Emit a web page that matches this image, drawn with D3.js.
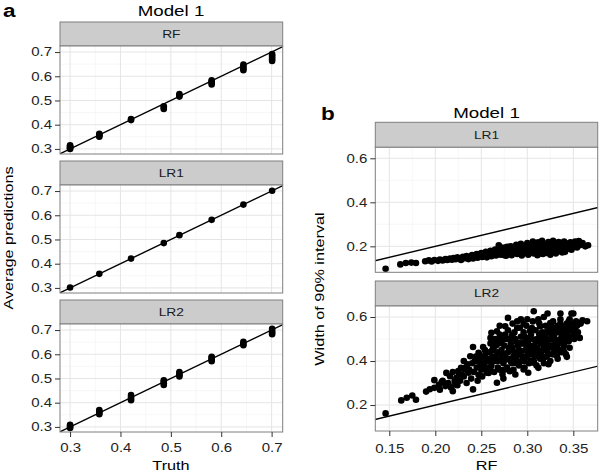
<!DOCTYPE html>
<html><head><meta charset="utf-8">
<script src="https://cdn.jsdelivr.net/npm/d3@7"></script>
<style>body{margin:0;background:#fff} svg{display:block;font-family:"Liberation Sans",Arial,Helvetica,sans-serif}</style>
</head><body><svg id="c" width="600" height="473"></svg>
<script>
// ---------- DATA ----------
const panelsA = ["RF", "LR1", "LR2"];
const panelsB = ["LR1", "LR2"];
const truth = [0.300, 0.358, 0.421, 0.486, 0.517, 0.581, 0.644, 0.701];
const rfPred = [
  [0.300, 0.303, 0.306, 0.309, 0.312, 0.315],
  [0.350, 0.354, 0.358, 0.362],
  [0.419, 0.423],
  [0.465, 0.470, 0.476],
  [0.516, 0.521, 0.527],
  [0.566, 0.572, 0.578, 0.583],
  [0.625, 0.632, 0.640, 0.648],
  [0.663, 0.670, 0.678, 0.686, 0.692]
];
const lr1Pred = [[0.302], [0.358], [0.421], [0.485], [0.518], [0.581], [0.644], [0.701]];
const lr2Pred = [
  [0.296, 0.300, 0.305, 0.309],
  [0.352, 0.358, 0.364, 0.370],
  [0.410, 0.417, 0.424, 0.432],
  [0.473, 0.480, 0.487, 0.493],
  [0.508, 0.514, 0.520, 0.527],
  [0.571, 0.578, 0.585, 0.590],
  [0.637, 0.644, 0.652],
  [0.683, 0.690, 0.697, 0.705]
];
const aTicks = [0.3, 0.4, 0.5, 0.6, 0.7];
const bXTicks = [0.15, 0.20, 0.25, 0.30, 0.35];
const bYTicks = [0.2, 0.4, 0.6];

// RF interval width (x) vs LR1 interval width (y)
const lr1Points = [
[0.146,0.098],[0.162,0.118],[0.168,0.124],[0.174,0.126],[0.179,0.124],[0.189,0.132],[0.193,0.136],[0.196,0.131],
[0.199,0.138],[0.203,0.134],[0.205,0.140],[0.208,0.136],[0.211,0.142],[0.213,0.138],[0.216,0.145],[0.218,0.139],
[0.220,0.147],[0.222,0.141],[0.224,0.150],[0.226,0.144],[0.228,0.138],[0.230,0.152],[0.232,0.146],[0.234,0.156],
[0.236,0.142],[0.238,0.150],[0.240,0.160],[0.241,0.145],[0.243,0.155],[0.245,0.165],[0.246,0.148],[0.248,0.158],
[0.250,0.170],[0.251,0.152],[0.253,0.162],[0.255,0.175],[0.256,0.150],[0.258,0.166],[0.260,0.180],[0.261,0.155],
[0.263,0.170],[0.265,0.185],[0.266,0.158],[0.268,0.175],[0.269,0.205],[0.270,0.190],[0.271,0.162],[0.273,0.180],
[0.274,0.168],[0.276,0.195],[0.277,0.157],[0.279,0.185],[0.280,0.172],[0.282,0.200],[0.283,0.160],[0.285,0.190],
[0.286,0.176],[0.288,0.207],[0.289,0.165],[0.290,0.195],[0.292,0.182],[0.293,0.212],[0.294,0.158],[0.296,0.170],
[0.297,0.200],[0.298,0.188],[0.300,0.215],[0.301,0.162],[0.302,0.178],[0.304,0.205],[0.305,0.192],[0.306,0.222],
[0.307,0.168],[0.308,0.183],[0.309,0.210],[0.310,0.197],[0.311,0.160],[0.312,0.218],[0.313,0.174],[0.314,0.188],
[0.315,0.205],[0.316,0.225],[0.317,0.165],[0.318,0.195],[0.319,0.180],[0.320,0.212],[0.321,0.170],[0.322,0.200],
[0.323,0.220],[0.324,0.186],[0.325,0.162],[0.326,0.208],[0.327,0.175],[0.328,0.225],[0.329,0.193],[0.330,0.214],
[0.331,0.168],[0.332,0.183],[0.333,0.202],[0.334,0.220],[0.335,0.178],[0.336,0.195],[0.337,0.210],[0.338,0.187],
[0.340,0.222],[0.341,0.175],[0.342,0.200],[0.344,0.212],[0.345,0.190],[0.347,0.218],[0.348,0.185],[0.350,0.205],
[0.352,0.222],[0.354,0.195],[0.356,0.224],[0.358,0.210],[0.360,0.215],[0.363,0.200],[0.366,0.205],
[0.262,0.172],[0.267,0.182],[0.272,0.195],[0.275,0.160],[0.278,0.198],[0.281,0.166],[0.284,0.184],[0.287,0.170],
[0.291,0.205],[0.295,0.185],[0.299,0.170],[0.303,0.196],[0.306,0.176],[0.310,0.215],[0.314,0.168],[0.318,0.210],
[0.322,0.180],[0.326,0.192],[0.330,0.176],[0.334,0.208],[0.338,0.172],[0.342,0.186],[0.346,0.200],[0.349,0.195],
[0.353,0.210],[0.357,0.205],
[0.234,0.148],[0.239,0.155],[0.244,0.160],[0.249,0.165],[0.254,0.168],[0.259,0.160],[0.264,0.178],[0.270,0.175],
[0.276,0.182],[0.281,0.190],[0.286,0.196],[0.291,0.172],[0.296,0.195],[0.301,0.205],[0.306,0.200],[0.311,0.190],
[0.316,0.212],[0.321,0.195],[0.326,0.218],[0.331,0.200],[0.336,0.215],[0.341,0.210],[0.346,0.215],[0.351,0.214],
[0.355,0.218]
];

// RF interval width (x) vs LR2 interval width (y)
const lr2Points = [
[0.146,0.162],[0.163,0.221],[0.169,0.233],[0.175,0.243],[0.179,0.224],[0.190,0.261],[0.194,0.272],[0.199,0.313],
[0.199,0.278],[0.204,0.292],[0.207,0.304],[0.211,0.286],[0.212,0.346],[0.216,0.331],[0.219,0.263],[0.221,0.294],
[0.223,0.324],[0.225,0.354],[0.228,0.369],[0.229,0.337],[0.231,0.400],[0.232,0.362],[0.235,0.385],[0.236,0.347],
[0.238,0.422],[0.239,0.320],[0.241,0.271],[0.241,0.464],[0.243,0.400],[0.245,0.370],[0.247,0.437],[0.247,0.337],
[0.249,0.407],[0.252,0.464],[0.253,0.380],[0.255,0.437],[0.256,0.347],
[0.254,0.422],[0.258,0.346],[0.260,0.505],[0.261,0.528],[0.263,0.400],[0.264,0.475],[0.267,0.301],[0.267,0.535],
[0.269,0.437],[0.270,0.360],[0.272,0.490],[0.274,0.320],[0.276,0.558],[0.277,0.407],[0.279,0.596],[0.280,0.460],
[0.281,0.354],[0.283,0.513],[0.285,0.422],[0.287,0.339],[0.289,0.483],[0.290,0.392],[0.292,0.551],[0.293,0.589],
[0.294,0.445],[0.296,0.362],[0.298,0.505],[0.299,0.422],[0.301,0.347],[0.303,0.536],[0.305,0.468],[0.307,0.626],
[0.307,0.392],[0.308,0.498],[0.310,0.437],[0.312,0.369],[0.314,0.558],[0.316,0.483],[0.317,0.407],[0.319,0.520],
[0.321,0.452],[0.322,0.616],[0.323,0.385],[0.325,0.573],[0.327,0.498],[0.328,0.430],[0.330,0.543],[0.332,0.425],
[0.333,0.475],[0.336,0.589],[0.336,0.616],[0.338,0.513],[0.339,0.452],[0.341,0.558],[0.343,0.419],[0.345,0.490],
[0.346,0.589],[0.348,0.616],[0.350,0.616],[0.349,0.536],[0.352,0.543],[0.357,0.505],[0.356,0.573],[0.360,0.585],
[0.365,0.581],
[0.245,0.40],[0.248,0.43],[0.250,0.36],[0.252,0.39],[0.254,0.45],[0.256,0.41],[0.257,0.37],[0.259,0.44],
[0.260,0.48],[0.261,0.38],[0.262,0.42],[0.263,0.46],[0.264,0.35],[0.265,0.50],[0.266,0.40],[0.267,0.44],
[0.268,0.37],[0.269,0.48],[0.270,0.52],[0.271,0.41],[0.272,0.45],[0.273,0.34],[0.274,0.39],[0.275,0.47],
[0.276,0.43],[0.277,0.50],[0.278,0.37],[0.279,0.54],[0.280,0.41],[0.281,0.45],[0.282,0.48],[0.283,0.39],
[0.284,0.52],[0.285,0.36],[0.286,0.44],[0.287,0.50],[0.288,0.41],[0.289,0.55],[0.290,0.47],[0.291,0.38],
[0.292,0.43],[0.293,0.51],[0.294,0.40],[0.295,0.48],[0.296,0.53],[0.297,0.37],[0.298,0.45],[0.299,0.56],
[0.300,0.42],[0.301,0.49],[0.302,0.39],[0.303,0.46],[0.304,0.52],[0.305,0.43],[0.306,0.58],[0.307,0.40],
[0.308,0.47],[0.309,0.54],[0.310,0.38],[0.311,0.50],[0.312,0.44],[0.313,0.57],[0.314,0.41],[0.315,0.48],
[0.316,0.53],[0.317,0.45],[0.318,0.39],[0.319,0.51],[0.320,0.56],[0.321,0.42],[0.322,0.49],[0.323,0.46],
[0.324,0.54],[0.325,0.40],[0.326,0.52],[0.327,0.47],[0.328,0.58],[0.329,0.44],[0.330,0.50],[0.331,0.55],
[0.332,0.46],[0.333,0.41],[0.334,0.53],[0.335,0.48],[0.336,0.57],[0.337,0.44],[0.338,0.51],[0.339,0.55],
[0.340,0.47],[0.341,0.52],[0.342,0.43],[0.343,0.57],[0.344,0.49],[0.345,0.54],[0.346,0.46],[0.347,0.51],
[0.349,0.56],[0.351,0.50],[0.353,0.58],[0.355,0.53],
[0.205,0.27],[0.208,0.31],[0.214,0.30],[0.217,0.28],[0.219,0.35],[0.221,0.31],[0.224,0.29],[0.226,0.34],
[0.227,0.31],[0.231,0.33],[0.233,0.37],[0.234,0.30],[0.237,0.36],[0.240,0.39],[0.242,0.35],[0.244,0.42],
[0.246,0.31],[0.249,0.38],[0.251,0.33],[0.253,0.42],[0.255,0.36],
[0.262,0.45],[0.266,0.47],[0.271,0.50],[0.273,0.43],[0.276,0.52],[0.279,0.44],[0.281,0.50],[0.284,0.46],
[0.286,0.53],[0.288,0.39],[0.291,0.45],[0.293,0.48],[0.295,0.42],[0.297,0.51],[0.299,0.47],[0.301,0.44],
[0.303,0.50],[0.305,0.55],[0.306,0.45],[0.308,0.42],[0.309,0.49],[0.311,0.46],[0.313,0.52],[0.315,0.44],
[0.316,0.50],[0.318,0.47],[0.320,0.53],[0.321,0.48],[0.323,0.43],[0.325,0.50],[0.326,0.56],[0.328,0.46],
[0.329,0.52],[0.331,0.49],[0.333,0.56],[0.334,0.45],[0.336,0.50],[0.337,0.54],[0.339,0.48],[0.341,0.50],
[0.343,0.53],[0.345,0.58],[0.347,0.55],[0.350,0.57],[0.352,0.52],[0.354,0.56],[0.358,0.57],[0.312,0.59],
[0.318,0.60],[0.300,0.59],[0.296,0.57],[0.284,0.57],[0.289,0.58],[0.270,0.56],[0.258,0.40],[0.260,0.36],
[0.265,0.42],[0.268,0.40],[0.275,0.36],[0.282,0.40],[0.290,0.43],[0.297,0.40],[0.304,0.40],[0.315,0.42],
[0.322,0.44],[0.330,0.45],[0.340,0.44]
];

// ---------- DRAW ----------
const svg = d3.select("#c");
const GRID = "#e5e5e5", MINOR = "#f4f4f4", BORDER = "#7f7f7f", STRIP = "#cccccc";
const SX = 1.25; // horizontal glyph stretch seen in the reference
let clipId = 0;

function stretch(sel) {
  sel.each(function () {
    const t = d3.select(this);
    const x = +(t.attr("x") || 0);
    t.attr("x", x / SX).attr("transform", ((t.attr("transform") || "") + ` scale(${SX},1)`).trim());
  });
  return sel;
}

function facet(o) {
  const g = svg.append("g");
  const x = d3.scaleLinear().domain(o.xDomain).range([o.x0, o.x1]);
  const y = d3.scaleLinear().domain(o.yDomain).range([o.plotBot, o.plotTop]);
  g.append("rect").attr("x", o.x0).attr("y", o.stripTop).attr("width", o.x1 - o.x0)
    .attr("height", o.plotTop - o.stripTop).attr("fill", STRIP).attr("stroke", BORDER).attr("stroke-width", 1);
  stretch(g.append("text").attr("x", (o.x0 + o.x1) / 2).attr("y", (o.stripTop + o.plotTop) / 2 + 4)
    .attr("text-anchor", "middle").attr("font-size", 11).attr("fill", "#1a1a1a").text(o.label));
  g.append("rect").attr("x", o.x0).attr("y", o.plotTop).attr("width", o.x1 - o.x0)
    .attr("height", o.plotBot - o.plotTop).attr("fill", "#fff");
  g.selectAll(null).data(o.xMinor).join("line").attr("x1", d => x(d)).attr("x2", d => x(d))
    .attr("y1", o.plotTop).attr("y2", o.plotBot).attr("stroke", MINOR).attr("stroke-width", 0.7);
  g.selectAll(null).data(o.yMinor).join("line").attr("y1", d => y(d)).attr("y2", d => y(d))
    .attr("x1", o.x0).attr("x2", o.x1).attr("stroke", MINOR).attr("stroke-width", 0.7);
  g.selectAll(null).data(o.xTicks).join("line").attr("x1", d => x(d)).attr("x2", d => x(d))
    .attr("y1", o.plotTop).attr("y2", o.plotBot).attr("stroke", GRID).attr("stroke-width", 1);
  g.selectAll(null).data(o.yTicks).join("line").attr("y1", d => y(d)).attr("y2", d => y(d))
    .attr("x1", o.x0).attr("x2", o.x1).attr("stroke", GRID).attr("stroke-width", 1);
  const id = "clip" + (clipId++);
  svg.append("clipPath").attr("id", id).append("rect").attr("x", o.x0).attr("y", o.plotTop)
    .attr("width", o.x1 - o.x0).attr("height", o.plotBot - o.plotTop);
  const inner = g.append("g").attr("clip-path", `url(#${id})`);
  inner.selectAll("circle").data(o.points).join("circle")
    .attr("cx", d => x(d[0])).attr("cy", d => y(d[1])).attr("r", o.r).attr("fill", "#000");
  const lo = Math.min(o.xDomain[0], o.yDomain[0]) - 0.1, hi = Math.max(o.xDomain[1], o.yDomain[1]) + 0.1;
  inner.append("line").attr("x1", x(lo)).attr("y1", y(lo)).attr("x2", x(hi)).attr("y2", y(hi))
    .attr("stroke", "#000").attr("stroke-width", 1.4);
  g.append("rect").attr("x", o.x0).attr("y", o.plotTop).attr("width", o.x1 - o.x0)
    .attr("height", o.plotBot - o.plotTop).attr("fill", "none").attr("stroke", BORDER).attr("stroke-width", 1);
  const ya = g.append("g").attr("transform", `translate(${o.x0},0)`)
    .call(d3.axisLeft(y).tickValues(o.yTicks).tickFormat(d3.format(o.yFmt)).tickSize(5).tickPadding(3));
  ya.select(".domain").remove();
  ya.selectAll(".tick line").attr("stroke", "#333");
  stretch(ya.selectAll(".tick text").attr("font-size", 12).attr("fill", "#222").attr("font-family", null));
  if (o.showX) {
    const xa = g.append("g").attr("transform", `translate(0,${o.plotBot})`)
      .call(d3.axisBottom(x).tickValues(o.xTicks).tickFormat(d3.format(o.xFmt)).tickSize(5).tickPadding(o.xPad));
    xa.select(".domain").remove();
    xa.selectAll(".tick line").attr("stroke", "#333");
    stretch(xa.selectAll(".tick text").attr("font-size", 12).attr("fill", "#222").attr("font-family", null));
  }
}

// ---- Panel a ----
const aRows = [22, 161, 300];
panelsA.forEach((lab, i) => {
  const preds = lab === "RF" ? rfPred : lab === "LR1" ? lr1Pred : lr2Pred;
  const pts = [];
  truth.forEach((t, k) => preds[k].forEach(v => pts.push([t, v])));
  facet({
    label: lab, x0: 60, x1: 282.7, stripTop: aRows[i], plotTop: aRows[i] + 24, plotBot: aRows[i] + 132,
    xDomain: [0.28, 0.722], yDomain: [0.279, 0.725],
    xTicks: aTicks, yTicks: aTicks, xMinor: [0.35, 0.45, 0.55, 0.65], yMinor: [0.35, 0.45, 0.55, 0.65],
    points: pts, r: 3.3, showX: i === 2, xFmt: ".1f", yFmt: ".1f", xPad: 6
  });
});
stretch(svg.append("text").attr("x", 171).attr("y", 16).attr("text-anchor", "middle").attr("font-size", 15).text("Model 1"));
stretch(svg.append("text").attr("x", 3).attr("y", 17).attr("font-size", 18).attr("font-weight", "bold").text("a"));
stretch(svg.append("text").attr("x", 171).attr("y", 470).attr("text-anchor", "middle").attr("font-size", 13).text("Truth"));
stretch(svg.append("text").attr("transform", "translate(13,238) rotate(-90)").attr("text-anchor", "middle")
  .attr("font-size", 13).text("Average predictions"));

// ---- Panel b ----
const bRows = [122.3, 281];
panelsB.forEach((lab, i) => {
  facet({
    label: lab, x0: 375.3, x1: 597.7, stripTop: bRows[i], plotTop: bRows[i] + 25, plotBot: bRows[i] + 150,
    xDomain: [0.1348, 0.3765], yDomain: [0.082, 0.650],
    xTicks: bXTicks, yTicks: bYTicks, xMinor: [0.175, 0.225, 0.275, 0.325], yMinor: [0.1, 0.3, 0.5],
    points: lab === "LR1" ? lr1Points : lr2Points, r: 3.3, showX: i === 1, xFmt: ".2f", yFmt: ".1f", xPad: 8
  });
});
stretch(svg.append("text").attr("x", 486.5).attr("y", 118).attr("text-anchor", "middle").attr("font-size", 15).text("Model 1"));
stretch(svg.append("text").attr("x", 321).attr("y", 120).attr("font-size", 18).attr("font-weight", "bold").text("b"));
stretch(svg.append("text").attr("x", 486.5).attr("y", 470).attr("text-anchor", "middle").attr("font-size", 13).text("RF"));
stretch(svg.append("text").attr("transform", "translate(324,289) rotate(-90)").attr("text-anchor", "middle")
  .attr("font-size", 13).text("Width of 90% interval"));
</script></body></html>
